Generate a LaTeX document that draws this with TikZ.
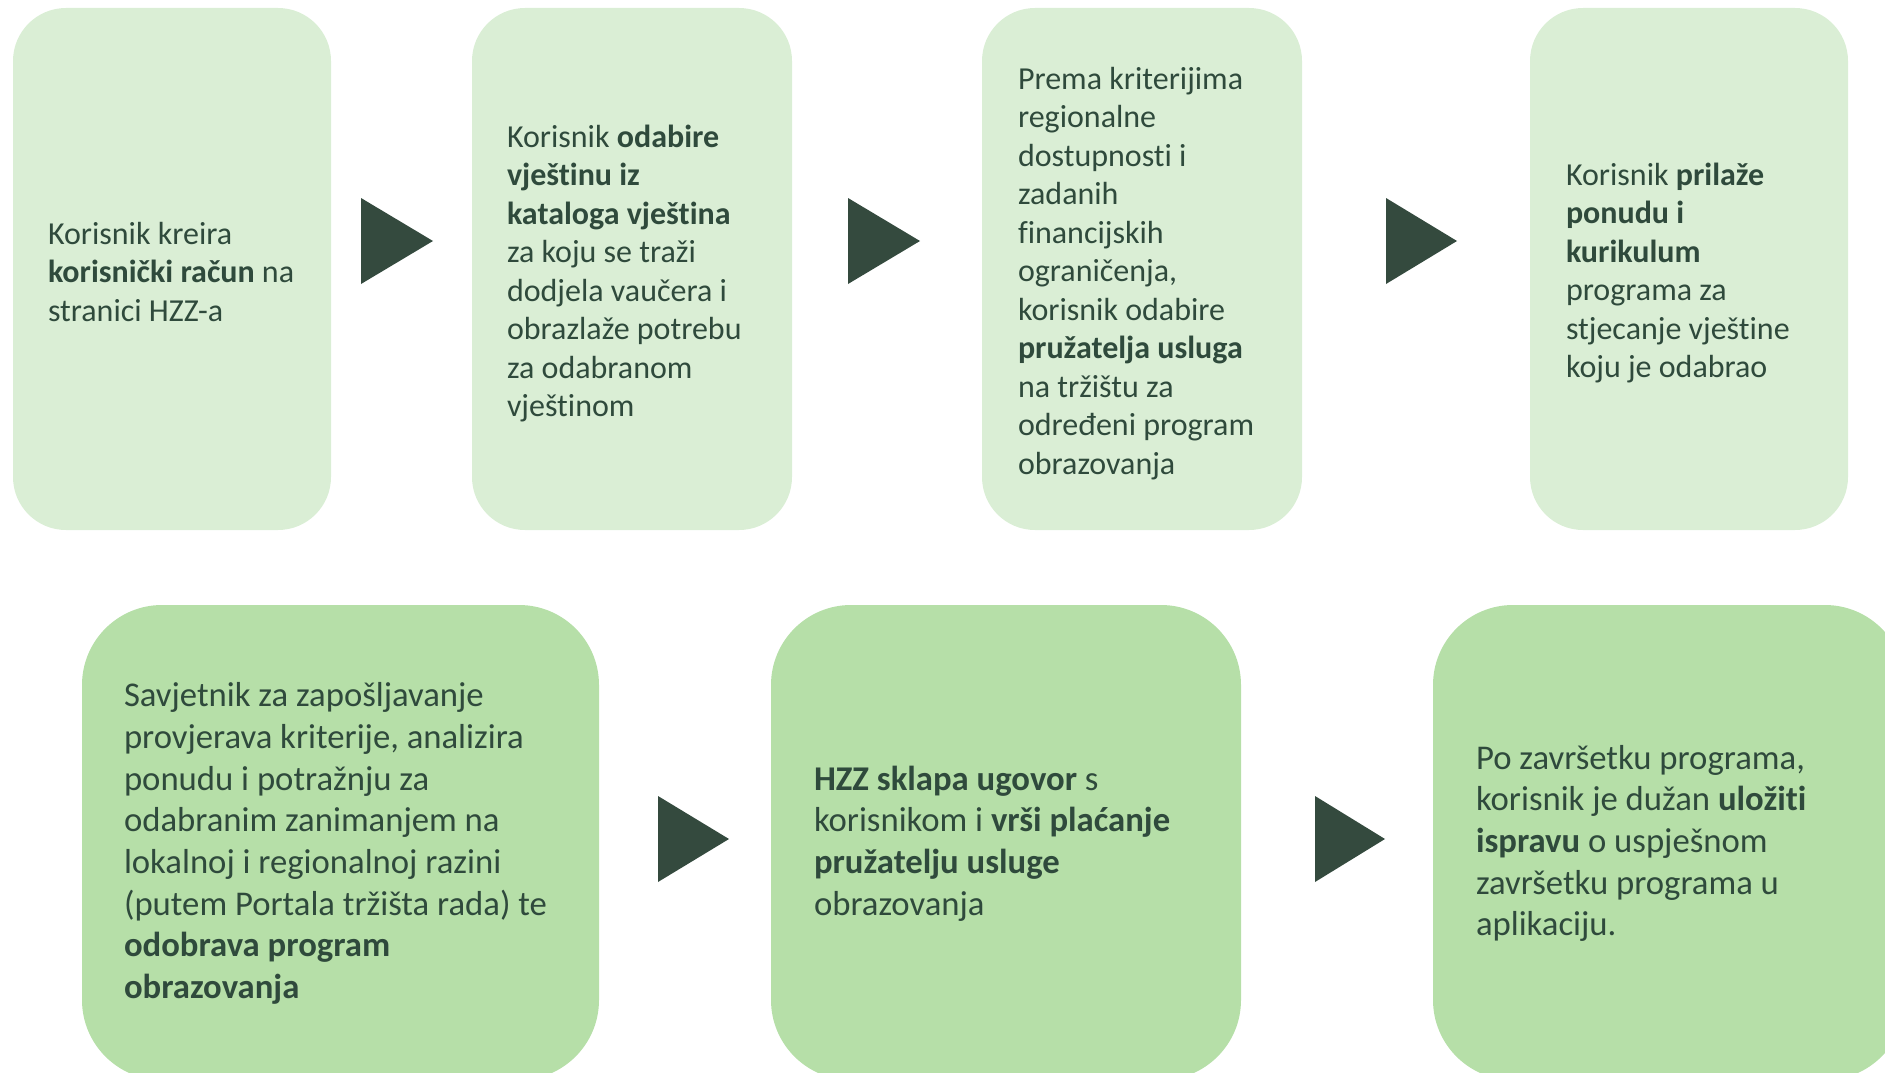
\documentclass[tikz,border=0pt]{standalone}
\usepackage{fontspec}
\setmainfont[Ligatures=NoCommon]{Carlito}
\definecolor{topfill}{HTML}{DAEED5}
\definecolor{botfill}{HTML}{B6DFA8}
\definecolor{ink}{HTML}{2F4A3C}
\definecolor{arrowc}{HTML}{344A3E}
\begin{document}
\begin{tikzpicture}[x=1pt,y=-1pt,
  topbox/.style={fill=topfill, draw=none, rounded corners=53pt, minimum height=522pt, inner sep=0pt},
  botbox/.style={fill=botfill, draw=none, rounded corners=80pt, minimum height=475pt, inner sep=0pt},
  toptxt/.style={anchor=west, align=left, inner sep=0pt, text=ink, font=\fontsize{32}{38.5}\selectfont},
  bottxt/.style={anchor=west, align=left, inner sep=0pt, text=ink, font=\fontsize{34.7}{41.7}\selectfont},
  arrowtri/.style={fill=arrowc}]
\useasboundingbox (0,0) rectangle (1885,1073);
\clip (0,0) rectangle (1885,1073);
% top row
\node[topbox, minimum width=318pt] (b1) at (172,269) {};
\node[topbox, minimum width=320pt] (b2) at (632,269) {};
\node[topbox, minimum width=320pt] (b3) at (1142,269) {};
\node[topbox, minimum width=318pt] (b4) at (1689,269) {};
% bottom row
\node[botbox, minimum width=517pt] (b5) at (340.5,842.5) {};
\node[botbox, minimum width=470pt] (b6) at (1006,842.5) {};
\node[botbox, minimum width=472pt] (b7) at (1669,842.5) {};
% texts
\node[toptxt] (t1) at ([xshift=35pt,yshift=-3pt]b1.west) {Korisnik kreira\\ \textbf{korisnički račun} na\\ stranici HZZ-a};
\node[toptxt] (t2) at ([xshift=35pt,yshift=-4.5pt]b2.west) {Korisnik \textbf{odabire}\\ \textbf{vještinu iz}\\ \textbf{kataloga vještina}\\ za koju se traži\\ dodjela vaučera i\\ obrazlaže potrebu\\ za odabranom\\ vještinom};
\node[toptxt] (t3) at ([xshift=36pt,yshift=-4.5pt]b3.west) {Prema kriterijima\\ regionalne\\ dostupnosti i\\ zadanih\\ financijskih\\ ograničenja,\\ korisnik odabire\\ \textbf{pružatelja usluga}\\ na tržištu za\\ određeni program\\ obrazovanja};
\node[toptxt] (t4) at ([xshift=36pt,yshift=-4pt]b4.west) {Korisnik \textbf{prilaže}\\ \textbf{ponudu i}\\ \textbf{kurikulum}\\ programa za\\ stjecanje vještine\\ koju je odabrao};
\node[bottxt] (t5) at ([xshift=42pt,yshift=-1pt]b5.west) {Savjetnik za zapošljavanje\\ provjerava kriterije, analizira\\ ponudu i potražnju za\\ odabranim zanimanjem na\\ lokalnoj i regionalnoj razini\\ (putem Portala tržišta rada) te\\ \textbf{odobrava program}\\ \textbf{obrazovanja}};
\node[bottxt] (t6) at ([xshift=43pt,yshift=-1pt]b6.west) {\textbf{HZZ sklapa ugovor} s\\ korisnikom i \textbf{vrši plaćanje}\\ \textbf{pružatelju usluge}\\ obrazovanja};
\node[bottxt] (t7) at ([xshift=43pt,yshift=-1pt]b7.west) {Po završetku programa,\\ korisnik je dužan \textbf{uložiti}\\ \textbf{ispravu} o uspješnom\\ završetku programa u\\ aplikaciju.};
% arrows (triangles)
\fill[arrowtri] (361,198) -- (433,241) -- (361,284) -- cycle;
\fill[arrowtri] (848,198) -- (920,241) -- (848,284) -- cycle;
\fill[arrowtri] (1386,198) -- (1457,241) -- (1386,284) -- cycle;
\fill[arrowtri] (658,796) -- (729,839) -- (658,882) -- cycle;
\fill[arrowtri] (1315,796) -- (1385,839) -- (1315,882) -- cycle;
\end{tikzpicture}
\end{document}
